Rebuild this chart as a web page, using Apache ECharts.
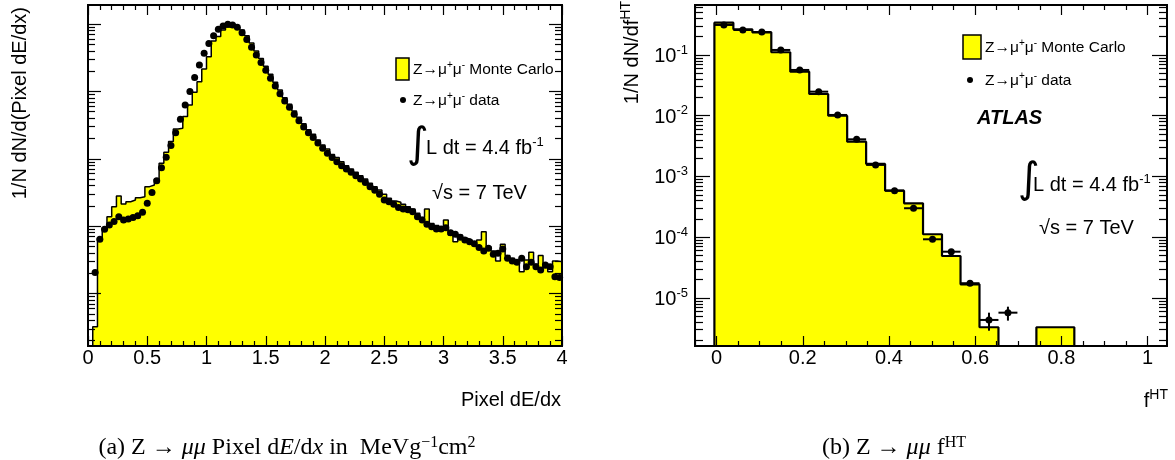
<!DOCTYPE html>
<html>
<head>
<meta charset="utf-8">
<title>Z → μμ : Pixel dE/dx and f^HT</title>
<script src="https://cdn.jsdelivr.net/npm/echarts@6.0.0/dist/echarts.min.js"></script>
<style>
html, body { margin: 0; padding: 0; background: #fff; }
#chart { width: 1175px; height: 460px; }
</style>
</head>
<body>
<div id="chart"></div>
<script>
// ---------- (a) Pixel dE/dx : 100 uniform bins on [0, 4] ----------
const dedxRange = [0, 4];
const dedxBinCount = 100;
const dedxYRange = [1.67e-5, 1.91];
const dedxXInterval = 0.5;

// Monte Carlo, normalised, one entry per bin
const dedxMC = [
  0, 3.23e-5, 6.61e-4, 9.51e-4, 1.38e-3, 1.95e-3, 2.81e-3, 2.13e-3, 2.31e-3, 2.45e-3,
  2.65e-3, 2.74e-3, 3.86e-3, 4.09e-3, 5.01e-3, 8.57e-3, 1.25e-2, 1.80e-2, 2.77e-2, 2.83e-2,
  4.22e-2, 6.29e-2, 9.68e-2, 0.139, 0.215, 0.327, 0.560, 0.649, 0.815, 0.902,
  0.923, 0.882, 0.815, 0.671, 0.523, 0.397, 0.306, 0.236, 0.179, 0.136,
  0.105, 0.0807, 0.0643, 0.0512, 0.0412, 0.0332, 0.0270, 0.0231, 0.0190, 0.0160,
  0.0140, 0.0116, 0.0104, 9.06e-3, 7.91e-3, 7.06e-3, 6.30e-3, 5.62e-3, 5.01e-3, 4.33e-3,
  3.86e-3, 3.44e-3, 2.97e-3, 2.59e-3, 2.37e-3, 2.26e-3, 2.11e-3, 1.95e-3, 1.80e-3, 1.55e-3,
  1.34e-3, 1.80e-3, 1.10e-3, 1.02e-3, 9.51e-4, 1.24e-3, 7.40e-4, 5.90e-4, 7.40e-4, 6.61e-4,
  6.24e-4, 5.77e-4, 6.24e-4, 8.30e-4, 4.97e-4, 4.29e-4, 3.05e-4, 5.38e-4, 3.66e-4, 3.34e-4,
  2.81e-4, 2.11e-4, 3.15e-4, 4.09e-4, 2.72e-4, 3.66e-4, 2.42e-4, 2.11e-4, 3.05e-4, 2.98e-4
];

// Collision data, normalised, one entry per bin (null = no point)
const dedxData = [
  null, 2.05e-4, 6.38e-4, 8.98e-4, 1.04e-3, 1.17e-3, 1.38e-3, 1.24e-3, 1.28e-3, 1.35e-3,
  1.43e-3, 1.61e-3, 2.18e-3, 3.15e-3, 4.74e-3, 7.39e-3, 1.05e-2, 1.58e-2, 2.44e-2, 3.85e-2,
  6.29e-2, 9.91e-2, 0.160, 0.246, 0.367, 0.511, 0.671, 0.834, 0.934, 0.989,
  0.966, 0.893, 0.743, 0.586, 0.451, 0.347, 0.267, 0.205, 0.156, 0.120,
  0.0925, 0.0721, 0.0581, 0.0457, 0.0368, 0.0297, 0.0244, 0.0206, 0.0172, 0.0143,
  0.0121, 0.0104, 9.06e-3, 7.91e-3, 7.06e-3, 6.30e-3, 5.62e-3, 5.01e-3, 4.43e-3, 3.86e-3,
  3.41e-3, 2.97e-3, 2.45e-3, 2.31e-3, 2.11e-3, 1.90e-3, 1.80e-3, 1.76e-3, 1.64e-3, 1.38e-3,
  1.24e-3, 1.07e-3, 9.84e-4, 9.08e-4, 9.08e-4, 9.51e-4, 8.02e-4, 7.57e-4, 6.84e-4, 6.24e-4,
  5.90e-4, 5.51e-4, 4.81e-4, 4.29e-4, 4.70e-4, 3.83e-4, 3.96e-4, 4.59e-4, 3.34e-4, 3.05e-4,
  2.91e-4, 3.34e-4, 2.51e-4, 2.91e-4, 2.51e-4, 2.24e-4, 2.66e-4, 2.51e-4, 1.78e-4, 1.74e-4
];

// ---------- (b) f^HT ----------
const fhtEdges = [-0.005, 0.039, 0.083, 0.127, 0.171, 0.215, 0.259, 0.303, 0.347, 0.391,
                  0.435, 0.479, 0.523, 0.566, 0.610, 0.654, 0.698, 0.742, 0.786, 0.830];
const fhtMC = [0.340, 0.265, 0.236, 0.111, 0.0531, 0.0228, 0.0100, 3.74e-3, 1.61e-3, 5.84e-4,
               3.62e-4, 1.12e-4, 4.91e-5, 1.68e-5, 3.30e-6, 0, 0, 3.30e-6, 3.30e-6];
const fhtData = [0.312, 0.258, 0.239, 0.121, 0.0567, 0.0249, 0.0103, 4.09e-3, 1.55e-3, 5.84e-4,
                 3.00e-4, 9.25e-5, 5.78e-5, 1.75e-5, 4.35e-6, 5.73e-6, null, null, null];
const fhtErrUp   = [0, 0, 0, 0, 0, 0, 0, 0, 0, 0, 0, 0, 0, 0, 1.38e-6, 1.46e-6, 0, 0, 0];
const fhtErrDown = [0, 0, 0, 0, 0, 0, 0, 0, 0, 0, 0, 0, 0, 0, 1.46e-6, 1.49e-6, 0, 0, 0];
const fhtXRange = [-0.05, 1.045];
const fhtYRange = [1.62e-6, 0.665];
const fhtXTicks = [0, 0.2, 0.4, 0.6, 0.8, 1];
const fhtYTicks = [1e-5, 1e-4, 1e-3, 1e-2, 1e-1];

// ---------- helpers ----------
const FONT = 'Liberation Sans';
const SERIF = 'Liberation Serif';
const BLACK = '#000';
const YELLOW = '#ffff00';

const dedxEdges = Array.from({ length: dedxBinCount + 1 },
  (_, i) => dedxRange[0] + i * (dedxRange[1] - dedxRange[0]) / dedxBinCount);

function centersOf(edges) {
  return edges.slice(0, -1).map((e, i) => (e + edges[i + 1]) / 2);
}

// Closed step outline of a histogram; empty bins drop to the axis floor
function histOutline(edges, values, floor) {
  const pts = [[edges[0], floor]];
  values.forEach((v, i) => pts.push([edges[i], v > 0 ? v : floor]));
  pts.push([edges[values.length], floor]);
  return pts;
}

function pointsOf(centers, values) {
  return centers.map((c, i) => (values[i] == null ? null : [c, values[i]])).filter(Boolean);
}

function decadeTicks(range, mults) {
  const out = [];
  const lo = Math.floor(Math.log10(range[0]));
  const hi = Math.ceil(Math.log10(range[1]));
  for (let e = lo; e <= hi; e++) {
    for (const m of mults) {
      const v = m * Math.pow(10, e);
      if (v >= range[0] && v <= range[1]) out.push(v);
    }
  }
  return out;
}

const fhtMinorX = [];
for (let k = -1; k <= 21; k++) {
  const v = +(k * 0.05).toFixed(2);
  if (k % 4 !== 0 && v >= fhtXRange[0] && v <= fhtXRange[1]) fhtMinorX.push(v);
}

const frame = { show: true, onZero: false, lineStyle: { color: BLACK, width: 2 } };
const tickStyle = { color: BLACK, width: 1.2 };
const noSplit = { show: false };

function logY(grid, range, position, ticks, len, label) {
  return {
    type: 'log', logBase: 10, gridIndex: grid, position, min: range[0], max: range[1],
    axisLine: frame,
    axisTick: { show: true, inside: true, length: len, customValues: ticks, lineStyle: tickStyle },
    axisLabel: label || { show: false },
    splitLine: noSplit, minorTick: { show: false }, minorSplitLine: noSplit, z: 10
  };
}

function fhtX(position, ticks, len, label) {
  return {
    type: 'value', gridIndex: 1, position, min: fhtXRange[0], max: fhtXRange[1],
    axisLine: frame,
    axisTick: { show: true, inside: true, length: len, customValues: ticks, lineStyle: tickStyle },
    axisLabel: label || { show: false },
    splitLine: noSplit, z: 10
  };
}

function dedxX(position, showLabel) {
  return {
    type: 'value', gridIndex: 0, position, min: dedxRange[0], max: dedxRange[1], interval: dedxXInterval,
    axisLine: frame,
    axisTick: { show: true, inside: true, length: 10, lineStyle: tickStyle },
    minorTick: { show: true, splitNumber: 5, length: 5, lineStyle: tickStyle },
    axisLabel: showLabel
      ? { show: true, fontFamily: FONT, fontSize: 20, color: BLACK, margin: 2 }
      : { show: false },
    splitLine: noSplit, minorSplitLine: noSplit, z: 10
  };
}

const dedxCenters = centersOf(dedxEdges);
const fhtCenters = centersOf(fhtEdges);

// error-bar records: [low edge, high edge, centre, value, value-down, value-up]
const fhtBars = fhtData.map((v, i) => (v == null ? null :
  [fhtEdges[i], fhtEdges[i + 1], fhtCenters[i], v, v - fhtErrDown[i], v + fhtErrUp[i]])).filter(Boolean);

// rich-text styles for superscripts
function supRich(base, sup, family, raise) {
  return {
    n: { fontFamily: family, fontSize: base, fill: BLACK, verticalAlign: 'bottom' },
    i: { fontFamily: family, fontSize: base, fontStyle: 'italic', fill: BLACK, verticalAlign: 'bottom' },
    s: { fontFamily: family, fontSize: sup, fill: BLACK, verticalAlign: 'bottom', padding: [0, 0, raise, 0] }
  };
}

function text(x, y, str, style, extra) {
  return Object.assign({
    type: 'text', x, y, z: 30,
    style: Object.assign({ text: str, fontFamily: FONT, fontSize: 20, fill: BLACK, align: 'left', verticalAlign: 'middle' }, style)
  }, extra || {});
}

const muLabel = (tail) => `{n|Z→μ}{s|+}{n|μ}{s|-}{n|${tail}}`;
const legendRich = supRich(15.5, 10, FONT, 7);
const lumiRich = supRich(20, 13, FONT, 10);

const graphics = [
  // (a) legend and labels
  { type: 'rect', z: 30, shape: { x: 396, y: 58, width: 13, height: 22 }, style: { fill: YELLOW, stroke: BLACK, lineWidth: 1.5 } },
  text(413, 69, muLabel(' Monte Carlo'), { rich: legendRich }),
  { type: 'circle', z: 30, shape: { cx: 403, cy: 100, r: 3 }, style: { fill: BLACK } },
  text(413, 100, muLabel(' data'), { rich: legendRich }),
  text(418, 146, '∫', { fontFamily: 'DejaVu Sans', fontSize: 42, align: 'center' }),
  text(426, 147, '{n|L dt = 4.4 fb}{s|-1}', { rich: lumiRich }),
  text(432, 193, '√s = 7 TeV', { fontSize: 20 }),

  // (b) legend and labels
  { type: 'rect', z: 30, shape: { x: 963, y: 35, width: 18, height: 24 }, style: { fill: YELLOW, stroke: BLACK, lineWidth: 1.5 } },
  text(985, 47, muLabel(' Monte Carlo'), { rich: legendRich }),
  { type: 'circle', z: 30, shape: { cx: 970, cy: 80, r: 3 }, style: { fill: BLACK } },
  text(985, 80, muLabel(' data'), { rich: legendRich }),
  text(977, 118, 'ATLAS', { fontSize: 20, fontWeight: 'bold', fontStyle: 'italic' }),
  text(1029, 181, '∫', { fontFamily: 'DejaVu Sans', fontSize: 42, align: 'center' }),
  text(1033, 184, '{n|L dt = 4.4 fb}{s|-1}', { rich: lumiRich }),
  text(1039, 228, '√s = 7 TeV', { fontSize: 20 }),

  // axis titles
  text(20, 7, '1/N dN/d(Pixel dE/dx)', { align: 'right' }, { rotation: Math.PI / 2 }),
  text(561, 400, 'Pixel dE/dx', { align: 'right' }),
  text(631, 1, '{n|1/N dN/df}{s|HT}', { align: 'right', rich: supRich(20, 14, FONT, 9) }, { rotation: Math.PI / 2 }),
  text(1168, 400, '{n|f}{s|HT}', { align: 'right', rich: supRich(20, 14, FONT, 9) }),

  // captions
  text(287, 447, '{n|(a) Z → }{i|μμ}{n| Pixel d}{i|E}{n|/d}{i|x}{n| in  MeVg}{s|−1}{n|cm}{s|2}',
       { align: 'center', rich: supRich(24, 16, SERIF, 9) }),
  text(894, 447, '{n|(b) Z → }{i|μμ}{n| f}{s|HT}',
       { align: 'center', rich: supRich(24, 16, SERIF, 9) })
];

const option = {
  animation: false,
  backgroundColor: '#fff',
  textStyle: { fontFamily: FONT },
  grid: [
    { left: 88, top: 5, width: 474, height: 341, show: false, containLabel: false, outerBoundsMode: 'none' },
    { left: 695, top: 5, width: 472, height: 341, show: false, containLabel: false, outerBoundsMode: 'none' }
  ],
  xAxis: [
    dedxX('bottom', true),
    dedxX('top', false),
    fhtX('bottom', fhtXTicks, 10, {
      show: true, customValues: fhtXTicks, fontFamily: FONT, fontSize: 20, color: BLACK, margin: 2,
      formatter: (v) => String(v)
    }),
    fhtX('bottom', fhtMinorX, 5),
    fhtX('top', fhtXTicks, 10),
    fhtX('top', fhtMinorX, 5)
  ],
  yAxis: [
    logY(0, dedxYRange, 'left', decadeTicks(dedxYRange, [1]), 13),
    logY(0, dedxYRange, 'left', decadeTicks(dedxYRange, [2, 3, 4, 5, 6, 7, 8, 9]), 7),
    logY(0, dedxYRange, 'right', decadeTicks(dedxYRange, [1]), 13),
    logY(0, dedxYRange, 'right', decadeTicks(dedxYRange, [2, 3, 4, 5, 6, 7, 8, 9]), 7),
    logY(1, fhtYRange, 'left', fhtYTicks, 15, {
      show: true, customValues: fhtYTicks, margin: 7,
      formatter: (v) => `{b|10}{s|${Math.round(Math.log10(v))}}`,
      rich: {
        b: { fontFamily: FONT, fontSize: 20, color: BLACK, verticalAlign: 'bottom' },
        s: { fontFamily: FONT, fontSize: 13, color: BLACK, verticalAlign: 'bottom', padding: [0, 0, 10, 0] }
      }
    }),
    logY(1, fhtYRange, 'left', decadeTicks(fhtYRange, [2, 3, 4, 5, 6, 7, 8, 9]), 8),
    logY(1, fhtYRange, 'right', decadeTicks(fhtYRange, [1]), 15),
    logY(1, fhtYRange, 'right', decadeTicks(fhtYRange, [2, 3, 4, 5, 6, 7, 8, 9]), 8)
  ],
  series: [
    {
      name: 'dedx MC', type: 'line', xAxisIndex: 0, yAxisIndex: 0, step: 'end',
      symbol: 'none', showSymbol: false, clip: true, z: 2,
      data: histOutline(dedxEdges, dedxMC, dedxYRange[0]),
      lineStyle: { color: BLACK, width: 1.5 },
      areaStyle: { color: YELLOW, opacity: 1, origin: 'start' }
    },
    {
      name: 'dedx data', type: 'scatter', xAxisIndex: 0, yAxisIndex: 0, z: 4,
      symbol: 'circle', symbolSize: 7, itemStyle: { color: BLACK, opacity: 1 },
      data: pointsOf(dedxCenters, dedxData)
    },
    {
      name: 'fHT MC', type: 'line', xAxisIndex: 2, yAxisIndex: 4, step: 'end',
      symbol: 'none', showSymbol: false, clip: true, z: 2,
      data: histOutline(fhtEdges, fhtMC, fhtYRange[0]),
      lineStyle: { color: BLACK, width: 2.2 },
      areaStyle: { color: YELLOW, opacity: 1, origin: 'start' }
    },
    {
      name: 'fHT errors', type: 'custom', xAxisIndex: 2, yAxisIndex: 4, z: 3, clip: true,
      encode: { x: [0, 1, 2], y: [3, 4, 5] },
      data: fhtBars,
      renderItem: (params, api) => {
        const lo = api.value(0), hi = api.value(1), c = api.value(2);
        const v = api.value(3), vd = api.value(4), vu = api.value(5);
        const a = api.coord([lo, v]), b = api.coord([hi, v]);
        const children = [{
          type: 'line', shape: { x1: a[0], y1: a[1], x2: b[0], y2: b[1] },
          style: { stroke: BLACK, lineWidth: 2 }
        }];
        if (vu > v || vd < v) {
          const t = api.coord([c, vu]), d = api.coord([c, vd]);
          children.push({
            type: 'line', shape: { x1: t[0], y1: t[1], x2: d[0], y2: d[1] },
            style: { stroke: BLACK, lineWidth: 2 }
          });
        }
        return { type: 'group', children };
      }
    },
    {
      name: 'fHT data', type: 'scatter', xAxisIndex: 2, yAxisIndex: 4, z: 4,
      symbol: 'circle', symbolSize: 7, itemStyle: { color: BLACK, opacity: 1 },
      data: pointsOf(fhtCenters, fhtData)
    }
  ],
  graphic: graphics
};

const chart = echarts.init(document.getElementById('chart'), null, { renderer: 'canvas' });
chart.setOption(option);
</script>
</body>
</html>
